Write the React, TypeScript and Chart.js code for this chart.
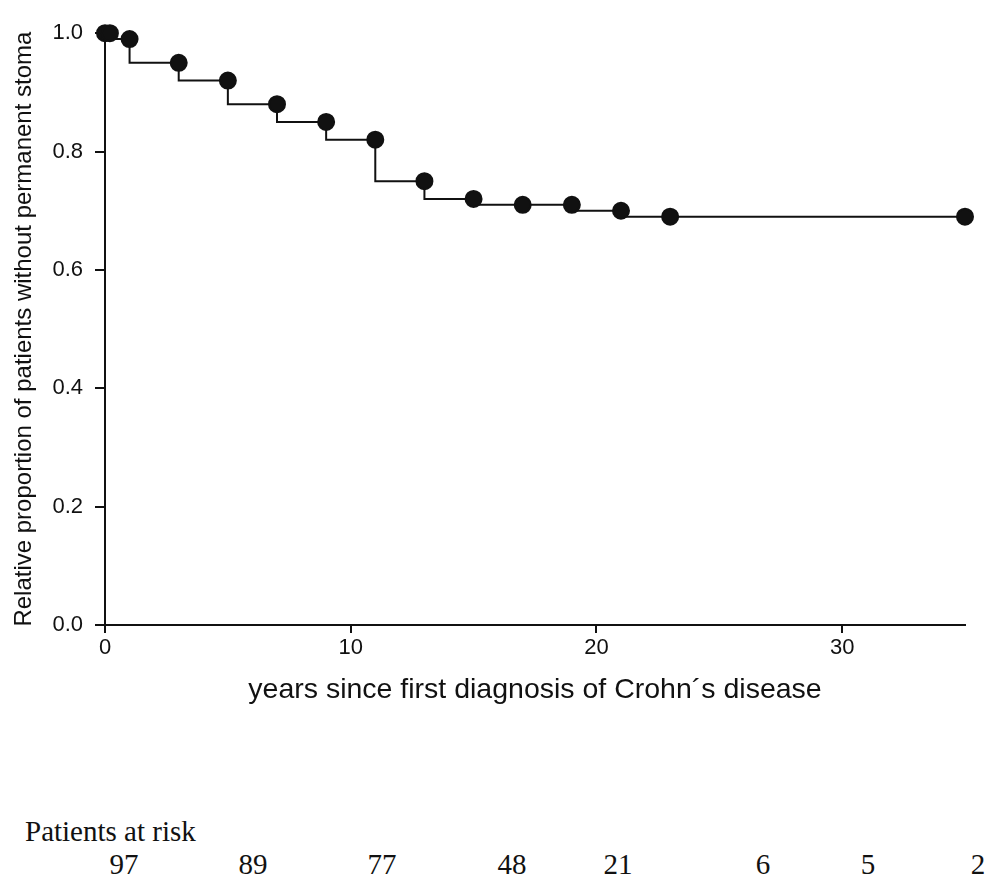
import React, { useEffect, useRef } from "react";
import { Chart, registerables } from "chart.js";

Chart.register(...registerables);

// ---- data ----
const years: number[] = [0, 0.2, 1, 3, 5, 7, 9, 11, 13, 15, 17, 19, 21, 23, 35];
const proportion: number[] = [1.0, 1.0, 0.99, 0.95, 0.92, 0.88, 0.85, 0.82, 0.75, 0.72, 0.71, 0.71, 0.70, 0.69, 0.69];
const yTitle = "Relative proportion of patients without permanent stoma";
const xTitle = "years since first diagnosis of Crohn\u00B4s disease";
const riskTitle = "Patients at risk";
const atRisk: number[] = [97, 89, 77, 48, 21, 6, 5, 2];

// ---- layout (px, within container) ----
const W = 981;
const CANVAS_H = 720;
const riskCenters = [116, 245, 374, 504, 610, 755, 860, 970];

const SANS = "'Liberation Sans', Arial, Helvetica, sans-serif";
const SERIF = "'Liberation Serif', 'Times New Roman', Times, serif";
const INK = "#111111";

export default function App() {
  const ref = useRef<HTMLCanvasElement | null>(null);

  useEffect(() => {
    if (!ref.current) return;
    const chart = new Chart(ref.current, {
      type: "line",
      data: {
        datasets: [
          {
            data: years.map((x, i) => ({ x, y: proportion[i] })),
            borderColor: INK,
            borderWidth: 2,
            backgroundColor: INK,
            pointBackgroundColor: INK,
            pointBorderColor: INK,
            pointRadius: 8,
            pointHoverRadius: 8,
            stepped: "after",
            fill: false,
            clip: false as any,
          },
        ],
      },
      options: {
        animation: false,
        responsive: false,
        maintainAspectRatio: false,
        layout: { padding: { left: 0, top: 17, right: 24, bottom: 0 } },
        plugins: { legend: { display: false }, tooltip: { enabled: false } },
        scales: {
          x: {
            type: "linear",
            min: 0,
            max: 35,
            border: { display: true, color: INK, width: 2 },
            grid: { display: true, drawOnChartArea: false, drawTicks: true, tickLength: 8, color: INK, lineWidth: 2 },
            ticks: {
              stepSize: 10,
              includeBounds: false,
              color: INK,
              padding: 2,
              maxRotation: 0,
              font: { family: SANS, size: 22 },
            },
            title: {
              display: true,
              text: xTitle,
              color: INK,
              font: { family: SANS, size: 28.5 },
              padding: { top: 4, bottom: 21 },
            },
            afterFit: (s: any) => {
              s.height = 103;
            },
          },
          y: {
            type: "linear",
            min: 0,
            max: 1,
            border: { display: true, color: INK, width: 2 },
            grid: { display: true, drawOnChartArea: false, drawTicks: true, tickLength: 10, color: INK, lineWidth: 2 },
            ticks: {
              stepSize: 0.2,
              color: INK,
              padding: 12,
              font: { family: SANS, size: 22 },
              callback: (v: any) => Number(v).toFixed(1),
            },
            title: {
              display: true,
              text: yTitle,
              color: INK,
              font: { family: SANS, size: 24 },
              padding: { top: 2, bottom: 4 },
            },
            afterFit: (s: any) => {
              s.width = 97;
            },
          },
        },
      },
    });
    return () => chart.destroy();
  }, []);

  return (
    <div style={{ position: "relative", width: W, height: 869, background: "#fff" }}>
      <canvas ref={ref} width={W} height={CANVAS_H} style={{ display: "block", width: W, height: CANVAS_H }} />
      <div
        style={{
          position: "absolute",
          left: 17,
          top: 809,
          fontFamily: SERIF,
          fontSize: 29,
          lineHeight: "29px",
          color: INK,
          whiteSpace: "nowrap",
        }}
      >
        {riskTitle}
      </div>
      {atRisk.map((n, i) => (
        <div
          key={i}
          style={{
            position: "absolute",
            left: riskCenters[i],
            top: 842,
            transform: "translateX(-50%)",
            fontFamily: SERIF,
            fontSize: 29,
            lineHeight: "29px",
            color: INK,
            whiteSpace: "nowrap",
          }}
        >
          {n}
        </div>
      ))}
    </div>
  );
}
